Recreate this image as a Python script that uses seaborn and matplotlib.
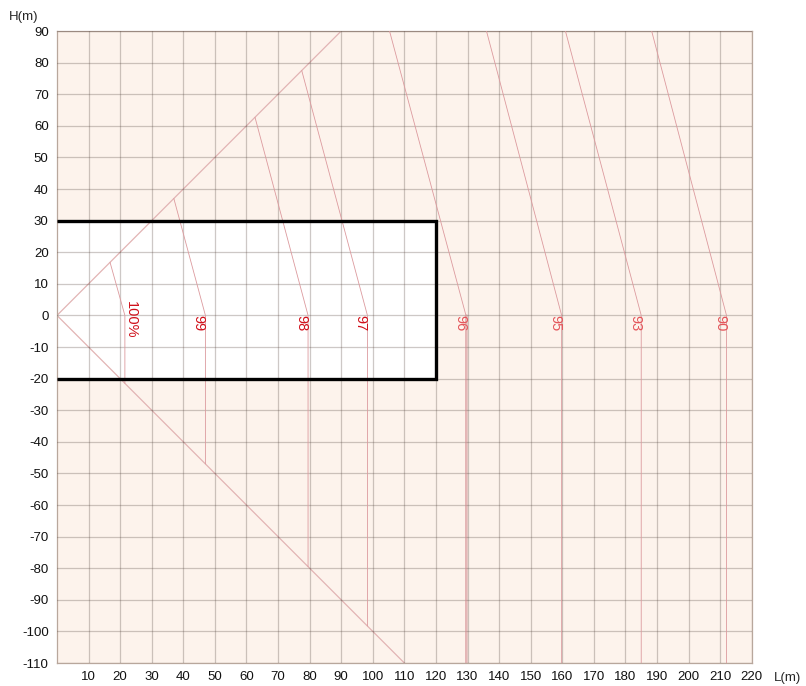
import matplotlib
matplotlib.use("Agg")
import matplotlib.pyplot as plt
import seaborn as sns
import pandas as pd

# contour data (metres)
contour_labels = ["100%", "99", "98", "97", "96", "95", "93", "90"]
base_x = [21.5, 47.0, 79.5, 98.3, 129.5, 159.8, 185.0, 212.0]
top_x = [16.8, 37.0, 62.7, 77.5, 105.3, 136.0, 161.0, 188.3]
top_y = [16.8, 37.0, 62.7, 77.5, 90.0, 90.0, 90.0, 90.0]
bottom_y = [-21.5, -47.0, -79.5, -98.3, -110.0, -110.0, -110.0, -110.0]
label_colors = ["#d0101a", "#d0101a", "#d0101a", "#d0101a",
                "#e4555a", "#e4555a", "#e4555a", "#e4555a"]
label_dx = [2.0, -2.2, -2.2, -2.1, -1.8, -2.0, -1.9, -1.8]

# envelope diagonals and the box
upper_diag_x = [0, 90]
upper_diag_y = [0, 90]
lower_diag_x = [0, 110]
lower_diag_y = [0, -110]
box_x = [0, 120, 120, 0]
box_y = [30, 30, -20, -20]

x_ticks = list(range(10, 230, 10))
y_ticks = list(range(-110, 100, 10))

sns.set_theme(style="white")
plt.rcParams["font.family"] = ["Liberation Sans", "DejaVu Sans"]
plt.rcParams["axes.unicode_minus"] = False

fig = plt.figure(figsize=(8.06, 6.86), dpi=100)
ax = fig.add_axes([0.0707, 0.0335, 0.862, 0.9213])
ax.set_facecolor("#fdf3ec")

# white working area
ax.fill_between([0, 120], -20, 30, color="white", zorder=0.5)

ax.set_xlim(0, 220)
ax.set_ylim(-110, 90)
ax.set_xticks(x_ticks)
ax.set_yticks(y_ticks)
ax.grid(True, color="#5a4a44", alpha=0.3, linewidth=0.9)
ax.set_axisbelow(False)
ax.tick_params(axis="both", length=0, labelsize=9.5, colors="#111111", pad=6)
for s in ax.spines.values():
    s.set_color("#b8a79c")
    s.set_linewidth(0.9)

diag = pd.DataFrame({"x": upper_diag_x + lower_diag_x,
                     "y": upper_diag_y + lower_diag_y,
                     "part": ["up", "up", "low", "low"]})
sns.lineplot(data=diag, x="x", y="y", units="part", estimator=None, sort=False,
             color="#e2b4b4", linewidth=0.9, ax=ax, zorder=2)

rows = []
for i, lab in enumerate(contour_labels):
    rows.append((lab, top_x[i], top_y[i]))
    rows.append((lab, base_x[i], 0))
    rows.append((lab, base_x[i], bottom_y[i]))
cont = pd.DataFrame(rows, columns=["label", "x", "y"])
sns.lineplot(data=cont, x="x", y="y", units="label", estimator=None, sort=False,
             color="#dc9a9e", linewidth=0.6, ax=ax, zorder=3)

# the 96 contour has a wider faint vertical
ax.plot([base_x[4], base_x[4]], [0, bottom_y[4]], color="#ebc9c6",
        linewidth=2.0, zorder=2.5)

for i, lab in enumerate(contour_labels):
    ax.text(base_x[i] + label_dx[i], -1.5 if lab == "100%" else -2.5, lab,
            rotation=-90, ha="center", va="center", fontsize=10.5,
            color=label_colors[i], zorder=5)

ax.plot(box_x, box_y, color="black", linewidth=2.4, zorder=6,
        solid_capstyle="butt", solid_joinstyle="miter")

ax.set_xlabel("")
ax.set_ylabel("")
fig.text(0.029, 0.975, "H(m)", fontsize=9.5, ha="center", va="center")
fig.text(0.977, 0.012, "L(m)", fontsize=9.5, ha="center", va="center")

fig.savefig("out.png", dpi=100)
